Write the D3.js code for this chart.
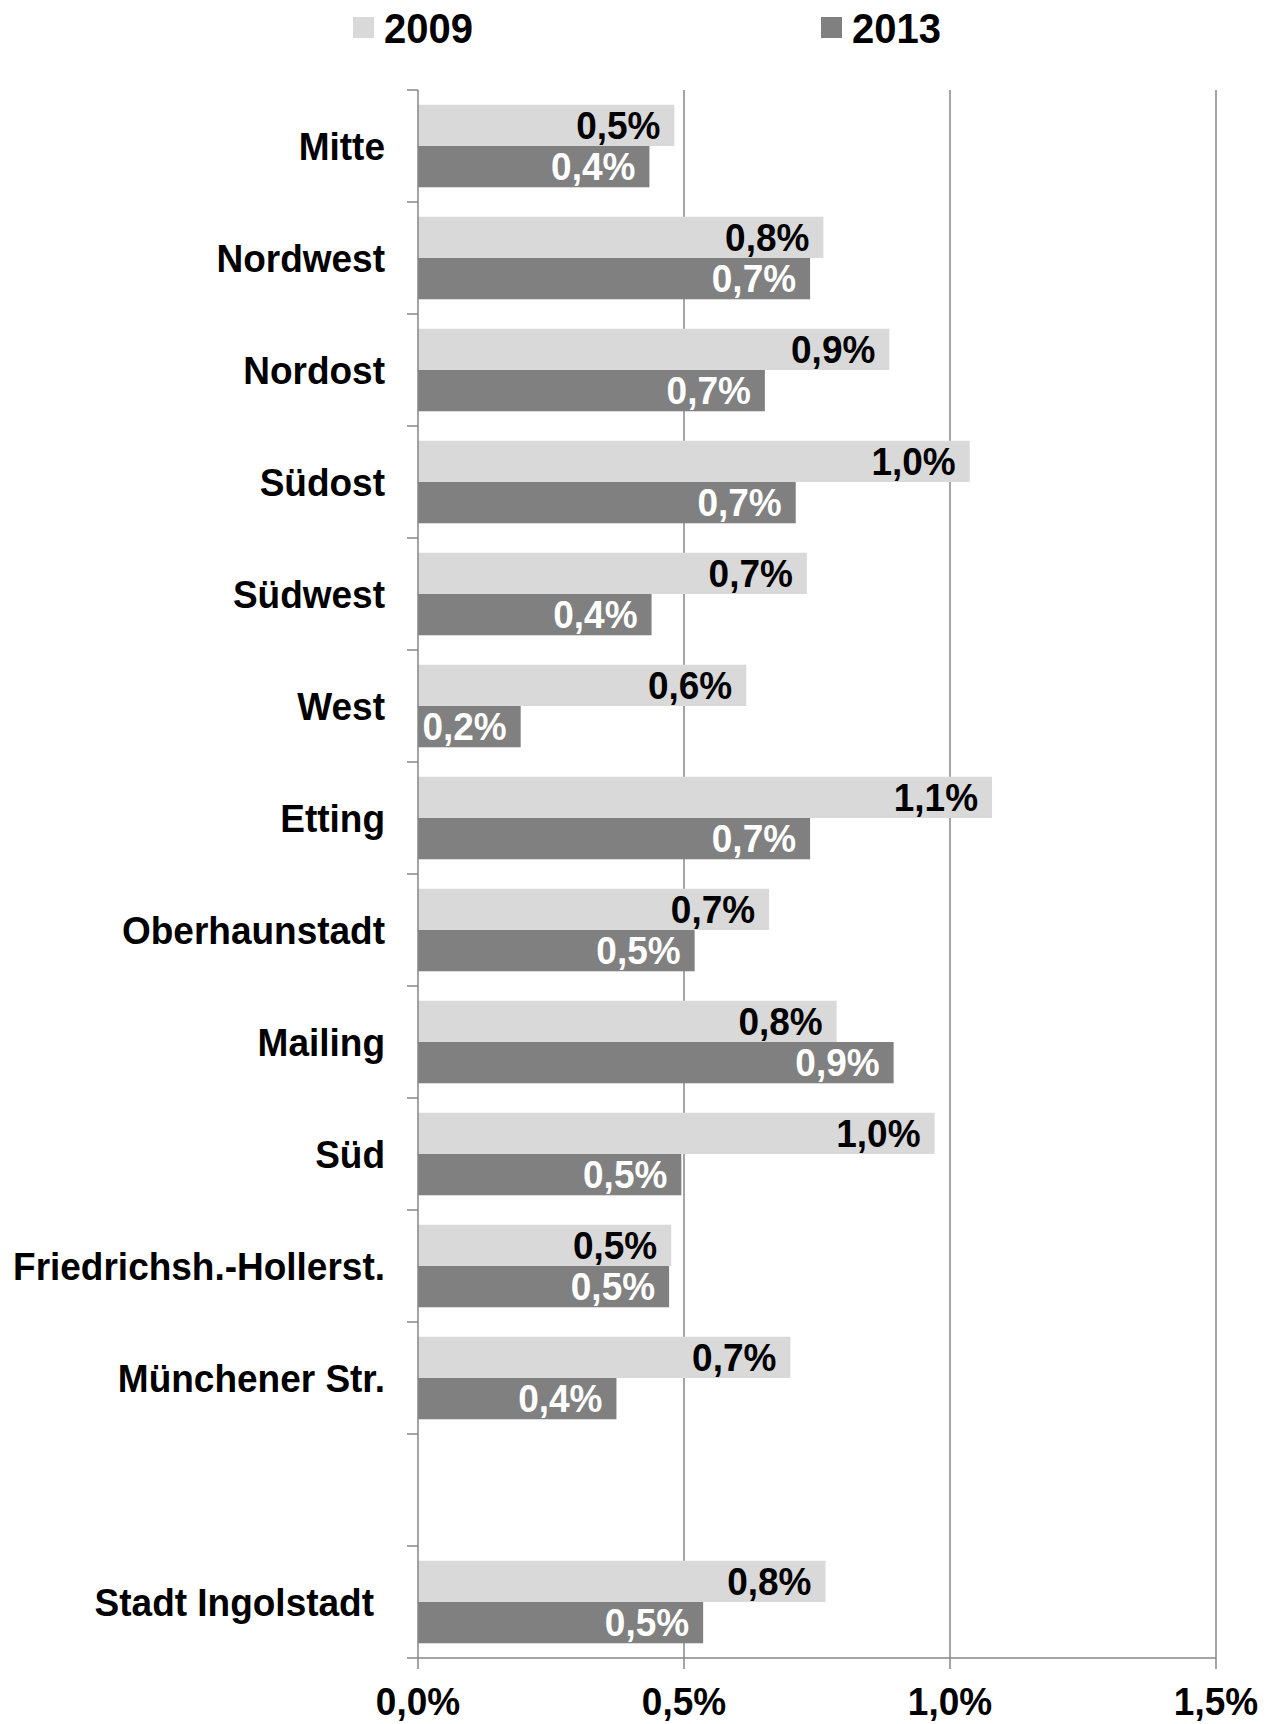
<!DOCTYPE html>
<html><head><meta charset="utf-8">
<script src="https://cdn.jsdelivr.net/npm/d3@7"></script>
<style>
html,body{margin:0;padding:0;background:#fff;}
svg{display:block;font-family:"Liberation Sans",Arial,sans-serif;font-weight:bold;}
</style></head><body>
<svg id="c" width="1271" height="1724"></svg>
<script>
const categories = ["Mitte","Nordwest","Nordost","Südost","Südwest","West","Etting","Oberhaunstadt","Mailing","Süd","Friedrichsh.-Hollerst.","Münchener Str.","","Stadt Ingolstadt"];
const series = ["2009","2013"];
const values2009 = [0.482,0.762,0.886,1.037,0.731,0.617,1.079,0.660,0.787,0.971,0.476,0.700,null,0.766];
const values2013 = [0.435,0.737,0.652,0.710,0.439,0.193,0.737,0.520,0.894,0.495,0.472,0.373,null,0.536];
const xTicks = [0,0.5,1.0,1.5];
const colors = {"2009":"#d9d9d9","2013":"#808080"};
const labelColors = {"2009":"#000","2013":"#fff"};

(function(){
const svg = d3.select("#c");
const mLeft = 418, mRight = 1216, mTop = 90, mBottom = 1658;
const fmt = v => d3.format(".1f")(v).replace(".", ",") + "%";

const x = d3.scaleLinear().domain([0,1.5]).range([mLeft,mRight]);
const y = d3.scaleBand().domain(d3.range(categories.length)).range([mTop,mBottom]).paddingInner(0.263).paddingOuter(0.1315);
const step = y.step();
const ySub = d3.scaleBand().domain(series).range([0,y.bandwidth()]);

// stretched text helper (reference glyphs are slightly taller than wide)
function stretched(sel, xx, yy){
  sel.attr("transform", `translate(${xx},${yy}) scale(1,1.07)`).attr("x",0).attr("y",0);
}

// gridlines
svg.append("g").selectAll("line").data(xTicks.filter(t=>t>0)).join("line")
  .attr("x1",d=>x(d)).attr("x2",d=>x(d)).attr("y1",mTop).attr("y2",mBottom)
  .attr("stroke","#868686").attr("stroke-width",1.5);

// bars
const rows = categories.map((c,i)=>({c,i,v:{"2009":values2009[i],"2013":values2013[i]}})).filter(d=>d.c!=="");
const g = svg.append("g");
rows.forEach(r=>{
  series.forEach(s=>{
    const v = r.v[s];
    const yy = y(r.i)+ySub(s);
    g.append("rect").attr("x",x(0)).attr("y",yy).attr("width",x(v)-x(0)).attr("height",ySub.bandwidth()).attr("fill",colors[s]);
    g.append("text").attr("text-anchor","end").attr("font-size",37).attr("fill",labelColors[s]).text(fmt(v))
      .call(stretched, x(v)-14, yy+ySub.bandwidth()/2+13.5);
  });
});

// left axis
const ticksY = d3.range(categories.length+1).map(i=>mTop+i*step);
svg.append("line").attr("x1",mLeft).attr("x2",mLeft).attr("y1",mTop).attr("y2",mBottom).attr("stroke","#868686").attr("stroke-width",1.5);
svg.append("g").selectAll("line").data(ticksY).join("line")
  .attr("x1",mLeft-11).attr("x2",mLeft).attr("y1",d=>d).attr("y2",d=>d).attr("stroke","#868686").attr("stroke-width",1.5);

// category labels
svg.append("g").selectAll("text").data(rows).join("text")
  .attr("text-anchor","end").attr("font-size",37).attr("fill","#000").text(d=>d.c)
  .each(function(d){ stretched(d3.select(this), d.c==="Stadt Ingolstadt"?374:385, y(d.i)+y.bandwidth()/2+13.5); });

// bottom axis
svg.append("line").attr("x1",mLeft).attr("x2",mRight).attr("y1",mBottom).attr("y2",mBottom).attr("stroke","#868686").attr("stroke-width",1.5);
svg.append("g").selectAll("line").data(xTicks).join("line")
  .attr("x1",d=>x(d)).attr("x2",d=>x(d)).attr("y1",mBottom).attr("y2",mBottom+11).attr("stroke","#868686").attr("stroke-width",1.5);
svg.append("g").selectAll("text").data(xTicks).join("text")
  .attr("text-anchor","middle").attr("font-size",37).attr("fill","#000")
  .text(d=>fmt(d))
  .each(function(d){ stretched(d3.select(this), x(d), 1715); });

// legend
const legX = {"2009":353,"2013":821};
series.forEach(s=>{
  svg.append("rect").attr("x",legX[s]).attr("y",17).attr("width",21).attr("height",21).attr("fill",colors[s]);
  svg.append("text").attr("font-size",40).attr("fill","#000").text(s)
    .call(stretched, legX[s]+31, 43);
});
})();
</script>
</body></html>
